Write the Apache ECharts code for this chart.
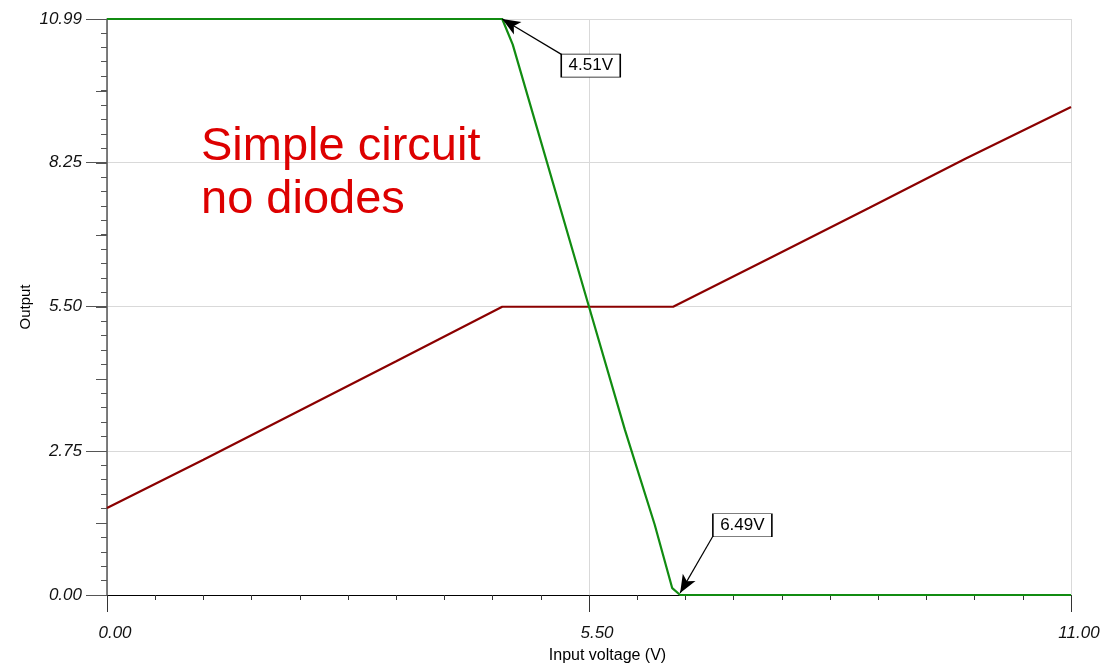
<!DOCTYPE html>
<html><head><meta charset="utf-8">
<script src="https://cdn.jsdelivr.net/npm/echarts@6/dist/echarts.min.js"></script>
<style>html,body{margin:0;padding:0;background:#fff}#c{width:1107px;height:666px}</style>
</head><body><div id="c"></div>
<script>
// Data
const greenX = [0, 4.51, 4.63, 5.50, 5.91, 6.25, 6.45, 6.54, 11];
const greenY = [10.99, 10.99, 10.50, 5.50, 3.15, 1.34, 0.13, 0, 0];
const redX = [0, 1.10, 2.20, 3.30, 4.51, 6.46, 7.60, 8.70, 9.80, 11];
const redY = [1.66, 2.58, 3.52, 4.46, 5.50, 5.50, 6.46, 7.39, 8.33, 9.31];
const xTicks = [0, 5.5, 11];
const yTicks = [0, 2.75, 5.5, 8.25, 10.99];
const ann1 = {text: '4.51V', point: [4.51, 10.99], tail: [5.19, 10.31], box: [5.52, 10.10]};
const ann2 = {text: '6.49V', point: [6.54, 0.04], tail: [6.91, 1.11], box: [7.25, 1.33]};
const noteLines = ['Simple circuit', 'no diodes'];

const FONT = "'Liberation Sans', Arial, sans-serif";
const zip = (xs, ys) => xs.map((x, i) => [x, ys[i]]);

function annMarkLine(a) { return [{coord: a.tail}, {coord: a.point}]; }
function annMarkPoint(a) {
  return {coord: a.box, symbol: 'rect', symbolSize: [59, 23],
    itemStyle: {color: '#fff', borderColor: '#000', borderWidth: 1},
    label: {show: true, position: 'inside', formatter: a.text, color: '#000', fontSize: 17, fontFamily: FONT}};
}

const chart = echarts.init(document.getElementById('c'), null, {renderer: 'canvas'});
chart.setOption({
  animation: false,
  backgroundColor: '#fff',
  grid: {left: 107, right: 36, top: 19, bottom: 71, containLabel: false, outerBoundsMode: 'none'},
  xAxis: {
    type: 'value', min: 0, max: 11, interval: 5.5,
    name: 'Input voltage (V)', nameLocation: 'middle', nameGap: 53,
    nameTextStyle: {fontSize: 16, fontFamily: FONT, color: '#000', padding: [0, 0, 0, 37]},
    axisLine: {show: true, onZero: false, lineStyle: {color: '#000', width: 1}},
    axisTick: {show: true, length: 17, lineStyle: {color: '#333'}},
    minorTick: {show: true, splitNumber: 10, length: 5, lineStyle: {color: '#333'}},
    axisLabel: {margin: 30, fontSize: 17, fontStyle: 'italic', fontFamily: FONT, color: '#111',
      padding: [0, 0, 0, 16],
      formatter: v => xTicks.some(t => Math.abs(t - v) < 1e-6) ? v.toFixed(2) : ''},
    splitLine: {show: true, lineStyle: {color: '#d9d9d9', width: 1}}
  },
  yAxis: [{
    type: 'value', min: 0, max: 10.99, interval: 2.75,
    name: 'Output', nameLocation: 'middle', nameGap: 74, nameRotate: 90, nameMoveOverlap: false,
    nameTextStyle: {fontSize: 15, fontFamily: FONT, color: '#000'},
    axisLine: {show: true, onZero: false, lineStyle: {color: '#555', width: 1.5}},
    axisTick: {show: true, length: 21, lineStyle: {color: '#555'}},
    minorTick: {show: true, splitNumber: 10, length: 6, lineStyle: {color: '#555'}},
    axisLabel: {margin: 25, fontSize: 17, fontStyle: 'italic', fontFamily: FONT, color: '#111',
      formatter: v => yTicks.some(t => Math.abs(t - v) < 1e-6) ? v.toFixed(2) : ''},
    splitLine: {show: true, lineStyle: {color: '#d9d9d9', width: 1}}
  }, {
    type: 'value', min: 0, max: 11, interval: 1.375, position: 'left',
    axisLine: {show: false}, axisLabel: {show: false}, splitLine: {show: false},
    axisTick: {show: true, length: 11, lineStyle: {color: '#555'}}
  }],
  series: [{
    type: 'line', data: zip(redX, redY), symbol: 'none', z: 3,
    lineStyle: {color: '#8b0000', width: 2.2}
  }, {
    type: 'line', data: zip(greenX, greenY), symbol: 'none', z: 4,
    lineStyle: {color: '#118c11', width: 2.2},
    markLine: {silent: true, symbol: ['none', 'arrow'], symbolSize: [11, 18], animation: false,
      label: {show: false}, lineStyle: {color: '#000', width: 1.2, type: 'solid'},
      data: [annMarkLine(ann1), annMarkLine(ann2)]},
    markPoint: {silent: true, animation: false, data: [annMarkPoint(ann1), annMarkPoint(ann2)]}
  }],
  graphic: [{
    type: 'text', left: 201, top: 121, z: 10,
    style: {text: noteLines.join('\n'), fill: '#dd0000', font: '47px ' + FONT, lineHeight: 53}
  }]
});
</script></body></html>
